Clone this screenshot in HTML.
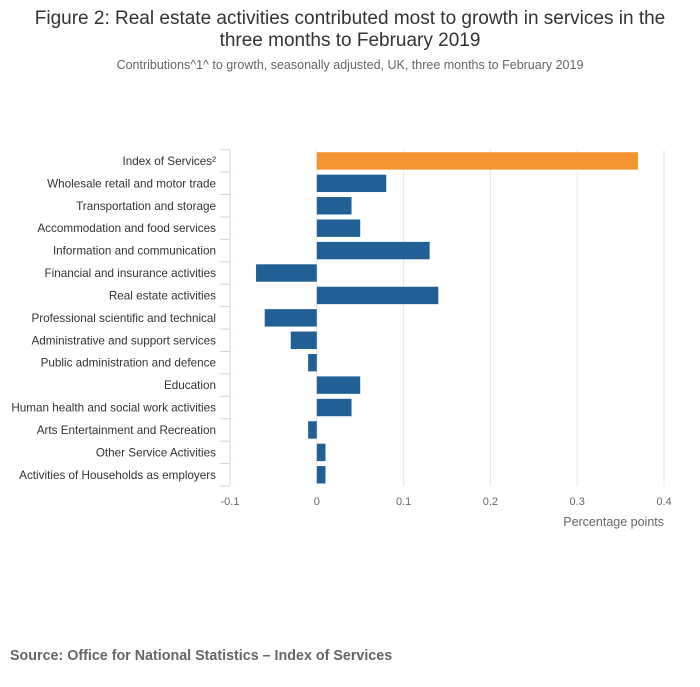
<!DOCTYPE html>
<html><head><meta charset="utf-8"><style>
body{margin:0;background:#fff;width:700px;height:682px;overflow:hidden;font-family:"Liberation Sans",sans-serif}
</style></head><body>
<svg width="700" height="682" xmlns="http://www.w3.org/2000/svg">
<text x="350" y="24" text-anchor="middle" font-size="19" fill="#333">Figure 2: Real estate activities contributed most to growth in services in the</text>
<text x="350" y="46" text-anchor="middle" font-size="19" fill="#333">three months to February 2019</text>
<text x="350" y="69" text-anchor="middle" font-size="12.5" fill="#666">Contributions^1^ to growth, seasonally adjusted, UK, three months to February 2019</text>
<g id="plot"></g>
<text x="664" y="526" text-anchor="end" font-size="12.5" fill="#666">Percentage points</text>
<text x="10" y="660" font-size="14.3" font-weight="bold" fill="#666">Source: Office for National Statistics – Index of Services</text>
</svg>
<script>
const categories=["Index of Services²","Wholesale retail and motor trade","Transportation and storage","Accommodation and food services","Information and communication","Financial and insurance activities","Real estate activities","Professional scientific and technical","Administrative and support services","Public administration and defence","Education","Human health and social work activities","Arts Entertainment and Recreation","Other Service Activities","Activities of Households as employers"];
const values=[0.37,0.08,0.04,0.05,0.13,-0.07,0.14,-0.06,-0.03,-0.01,0.05,0.04,-0.01,0.01,0.01];
const ticks=[-0.1,0,0.1,0.2,0.3,0.4];
const tickLabels=["-0.1","0","0.1","0.2","0.3","0.4"];
const NS="http://www.w3.org/2000/svg";
const g=document.getElementById('plot');
const top0=149.7,rowH=22.42,x0=230,x1=664,vmin=-0.1,vmax=0.4;
const xs=v=>x0+(v-vmin)/(vmax-vmin)*(x1-x0);
function mk(t,a){const e=document.createElementNS(NS,t);for(const k in a)e.setAttribute(k,a[k]);g.appendChild(e);return e;}
ticks.forEach((t,i)=>{
  if(t>vmin){const l=mk('line',{x1:xs(t),x2:xs(t),y1:top0,y2:top0+rowH*categories.length,stroke:'#e6e6e6'});
  
  }
  const tx=mk('text',{x:xs(t),y:505,'text-anchor':'middle','font-size':11,fill:'#666'});tx.textContent=tickLabels[i];
  
  
});
const ax=mk('line',{x1:x0,x2:x0,y1:top0,y2:top0+rowH*categories.length,stroke:'#ccd6eb'});


for(let i=0;i<=categories.length;i++){const tk=mk('line',{x1:x0-10,x2:x0,y1:top0+i*rowH,y2:top0+i*rowH,stroke:'#ccd6eb'});

}
categories.forEach((c,i)=>{
  const y=top0+i*rowH;
  const lb=mk('text',{x:216,y:y+rowH/2+4,'text-anchor':'end','font-size':11.7,fill:'#333'});lb.textContent=c;
  
  
  const v=values[i],a=xs(0),b=xs(v);
  const r=mk('rect',{x:Math.min(a,b),y:y+2.5,width:Math.abs(b-a),height:rowH-5,fill:i==0?'#f39431':'#206095'});
  
  
});
</script>
</body></html>
